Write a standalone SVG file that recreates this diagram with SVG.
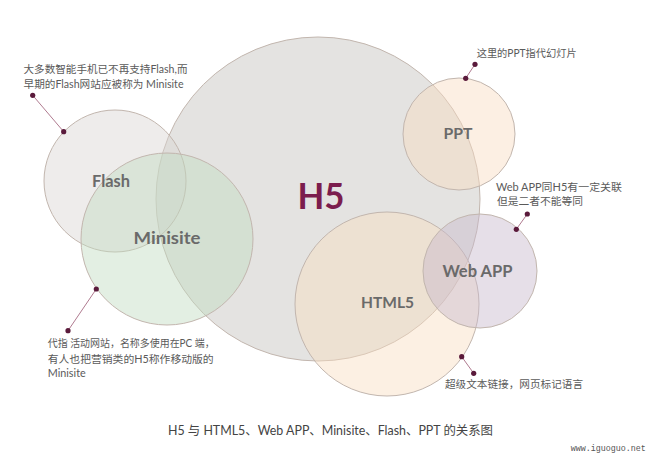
<svg xmlns="http://www.w3.org/2000/svg" width="650" height="465" viewBox="0 0 650 465">
<style>
.c{stroke:#c2b6ae;stroke-width:1}
.lbl{font-family:Lato,"Noto Sans CJK SC",sans-serif;font-weight:bold;fill:#6a6a6a;text-anchor:middle}
.note{font-family:Lato,"Noto Sans CJK SC",sans-serif;font-size:10.5px;fill:#5a5a5a}
.ln{stroke:#b07b90;stroke-width:1;fill:none}
.dot{fill:#5a1a3b}
</style>
<rect width="650" height="465" fill="#ffffff"/>
<g id="h5">
<circle class="c" cx="318" cy="199" r="162" fill="#e4e3e1"/>
</g>
<g id="flash">
<circle class="c" cx="115" cy="181" r="71" fill="#dad5d3" fill-opacity="0.45"/>
</g>
<g id="minisite">
<circle class="c" cx="167" cy="239" r="86" fill="#c0dcc0" fill-opacity="0.45"/>
</g>
<g id="ppt">
<circle class="c" cx="459" cy="134" r="56" fill="#f9dcc1" fill-opacity="0.45"/>
</g>
<g id="html5">
<circle class="c" cx="387" cy="304" r="92" fill="#f9dec0" fill-opacity="0.45"/>
</g>
<g id="webapp">
<circle class="c" cx="480" cy="271" r="57" fill="#c8b8cc" fill-opacity="0.45"/>
</g>
<g id="node-labels">
<text class="lbl" x="111" y="187" font-size="17" textLength="38" lengthAdjust="spacingAndGlyphs">Flash</text>
<text class="lbl" x="167" y="244" font-size="17" textLength="67" lengthAdjust="spacingAndGlyphs">Minisite</text>
<text class="lbl" x="458" y="139" font-size="16" textLength="29" lengthAdjust="spacingAndGlyphs">PPT</text>
<text class="lbl" x="387.5" y="308" font-size="16" textLength="53" lengthAdjust="spacingAndGlyphs">HTML5</text>
<text class="lbl" x="477.5" y="277" font-size="17" textLength="70" lengthAdjust="spacingAndGlyphs">Web APP</text>
<text x="321" y="209" font-family="Lato,sans-serif" font-weight="bold" font-size="36" fill="#7b1d4d" text-anchor="middle" textLength="47" lengthAdjust="spacingAndGlyphs">H5</text>
</g>
<g id="connectors">
<line class="ln" x1="32.7" y1="95.3" x2="63.7" y2="131.7"/>
<circle class="dot" cx="32.7" cy="95.3" r="2.6"/>
<circle class="dot" cx="63.7" cy="131.7" r="2.6"/>
<line class="ln" x1="96.3" y1="289" x2="68" y2="330.7"/>
<circle class="dot" cx="96.3" cy="289" r="2.6"/>
<circle class="dot" cx="68" cy="330.7" r="2.6"/>
<line class="ln" x1="475" y1="64.3" x2="465.7" y2="78.3"/>
<circle class="dot" cx="475" cy="64.3" r="2.6"/>
<circle class="dot" cx="465.7" cy="78.3" r="2.6"/>
<line class="ln" x1="527.3" y1="214" x2="516.3" y2="229.3"/>
<circle class="dot" cx="527.3" cy="214" r="2.6"/>
<circle class="dot" cx="516.3" cy="229.3" r="2.6"/>
<line class="ln" x1="461.7" y1="356.7" x2="473.7" y2="373.3"/>
<circle class="dot" cx="461.7" cy="356.7" r="2.6"/>
<circle class="dot" cx="473.7" cy="373.3" r="2.6"/>
</g>
<g id="note-flash">
<text class="note" x="23.5" y="73" textLength="164" lengthAdjust="spacingAndGlyphs">大多数智能手机已不再支持Flash,而</text>
<text class="note" x="23.5" y="88" textLength="160" lengthAdjust="spacingAndGlyphs">早期的Flash网站应被称为 Minisite</text>
</g>
<g id="note-minisite">
<text class="note" x="47.7" y="347" textLength="167" lengthAdjust="spacingAndGlyphs">代指 活动网站，名称多使用在PC 端，</text>
<text class="note" x="47.7" y="362.5" textLength="166" lengthAdjust="spacingAndGlyphs">有人也把营销类的H5称作移动版的</text>
<text class="note" x="47.7" y="377" textLength="38" lengthAdjust="spacingAndGlyphs">Minisite</text>
</g>
<g id="note-ppt">
<text class="note" x="476.7" y="57" textLength="100" lengthAdjust="spacingAndGlyphs">这里的PPT指代幻灯片</text>
</g>
<g id="note-webapp">
<text class="note" x="496" y="191" textLength="126" lengthAdjust="spacingAndGlyphs">Web APP同H5有一定关联</text>
<text class="note" x="497" y="205" textLength="86" lengthAdjust="spacingAndGlyphs">但是二者不能等同</text>
</g>
<g id="note-html5">
<text class="note" x="445" y="388" textLength="138" lengthAdjust="spacingAndGlyphs">超级文本链接，网页标记语言</text>
</g>
<g id="caption">
<text x="168" y="435" font-family="Lato,'Noto Sans CJK SC',sans-serif" font-size="12.5" fill="#444444" textLength="325" lengthAdjust="spacingAndGlyphs">H5 与 HTML5、Web APP、Minisite、Flash、PPT 的关系图</text>
<text x="570.7" y="450.5" font-family="'Liberation Mono',monospace" font-size="8.4" fill="#555555" textLength="75" lengthAdjust="spacingAndGlyphs">www.iguoguo.net</text>
</g>
</svg>
